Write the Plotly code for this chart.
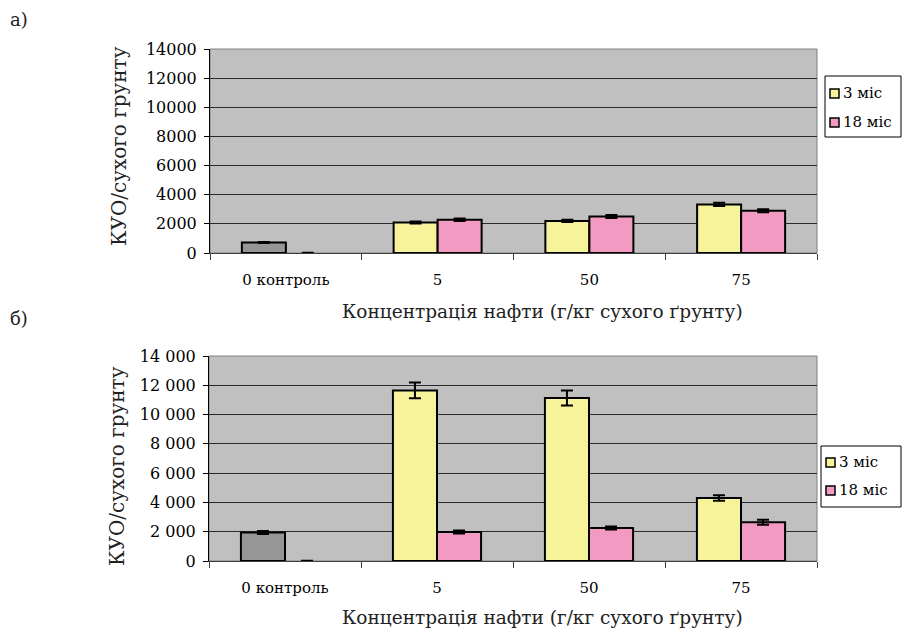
import plotly.graph_objects as go

# Categories: oil concentration, g/kg dry soil
categories = ["0 контроль", "5", "50", "75"]

# Panel а): CFU per dry soil
a_3m = [720, 2100, 2200, 3330]
a_3m_err = [40, 70, 80, 110]
a_18m = [0, 2280, 2500, 2900]
a_18m_err = [20, 80, 100, 110]

# Panel б): CFU per dry soil
b_3m = [1950, 11650, 11130, 4300]
b_3m_err = [100, 540, 510, 190]
b_18m = [0, 1980, 2250, 2640]
b_18m_err = [20, 110, 100, 170]

series_names = ["3 міс", "18 міс"]

W, H = 902, 634
SERIF = "DejaVu Serif"
YELLOW = "#F6F39A"
PINK = "#F29AC2"
GREY = "#969696"
BG = "#C0C0C0"
COLORS = [YELLOW, PINK]


def px_x(x):
    return x / W


def px_y(y):
    return 1 - y / H


fig = go.Figure()


def bar(x, y, err, color, lw, group, xa, ya):
    fig.add_trace(go.Bar(
        x=x, y=y, offsetgroup=group, showlegend=False,
        marker=dict(color=color, line=dict(color="black", width=lw)),
        error_y=dict(type="data", array=err, color="black", thickness=2, width=6),
        xaxis=xa, yaxis=ya,
    ))


def add_panel(vals3, err3, vals18, err18, xa, ya):
    # control (first category) is drawn in grey, the rest per series colour
    bar(categories[:1], vals3[:1], err3[:1], GREY, 2, "m3", xa, ya)
    bar(categories[1:], vals3[1:], err3[1:], YELLOW, 2, "m3", xa, ya)
    bar(categories[:1], vals18[:1], err18[:1], PINK, 0, "m18", xa, ya)
    bar(categories[1:], vals18[1:], err18[1:], PINK, 2, "m18", xa, ya)


add_panel(a_3m, a_3m_err, a_18m, a_18m_err, "x", "y")
add_panel(b_3m, b_3m_err, b_18m, b_18m_err, "x2", "y2")

xaxis_common = dict(
    type="category", categoryorder="array", categoryarray=categories,
    showline=True, linecolor="#404040", linewidth=1, automargin=False,
    ticks="outside", tickson="boundaries", ticklen=6, tickcolor="#404040",
    showgrid=False, tickfont=dict(family=SERIF, size=15, color="black"),
    ticklabelstandoff=13, fixedrange=True,
)
yaxis_common = dict(
    range=[0, 14000], dtick=2000, showline=True, linecolor="black", linewidth=1,
    ticks="outside", ticklen=5, tickcolor="black", showgrid=True, automargin=False,
    gridcolor="#2a2a2a", gridwidth=1, zeroline=False,
    tickfont=dict(family=SERIF, size=16, color="black"), ticklabelstandoff=4,
)

# plot-area pixel boxes
A = dict(l=210, r=817, t=49, b=253)
B = dict(l=209, r=817, t=356, b=561)

fig.update_layout(
    width=W, height=H, margin=dict(l=0, r=0, t=0, b=0, autoexpand=False),
    paper_bgcolor="white", plot_bgcolor=BG,
    font=dict(family=SERIF),
    barmode="group", bargap=0.42, bargroupgap=0,
    separators=". ", showlegend=False,
    xaxis=dict(domain=[px_x(A["l"]), px_x(A["r"])], anchor="y", **xaxis_common),
    yaxis=dict(domain=[px_y(A["b"]), px_y(A["t"])], anchor="x", tickformat="d",
               **yaxis_common),
    xaxis2=dict(domain=[px_x(B["l"]), px_x(B["r"])], anchor="y2", **xaxis_common),
    yaxis2=dict(domain=[px_y(B["b"]), px_y(B["t"])], anchor="x2", tickformat=",d",
                **yaxis_common),
)

# grey plot-area frame on top and right
for xr, yr in (("x domain", "y domain"), ("x2 domain", "y2 domain")):
    fig.add_shape(type="rect", xref=xr, yref=yr, x0=0, x1=1, y0=0, y1=1,
                  line=dict(color="#808080", width=1), layer="below")


def add_legend(left, top, row_y):
    # boxed key with a swatch and a label per series
    fig.add_shape(type="rect", xref="paper", yref="paper",
                  x0=px_x(left), x1=px_x(W - 1), y0=px_y(top + 61), y1=px_y(top),
                  line=dict(color="black", width=1), fillcolor="white")
    for name, col, yy in zip(series_names, COLORS, row_y):
        fig.add_shape(type="rect", xref="paper", yref="paper",
                      x0=px_x(left + 5), x1=px_x(left + 14),
                      y0=px_y(yy + 5), y1=px_y(yy - 4),
                      line=dict(color="black", width=1.5), fillcolor=col)
        fig.add_annotation(text=name, xref="paper", yref="paper",
                           x=px_x(left + 16), y=px_y(yy), xanchor="left",
                           yanchor="middle", showarrow=False,
                           font=dict(family=SERIF, size=15, color="black"))


add_legend(825, 76, (93, 122))
add_legend(821, 446, (462, 490))

ytitle_font = dict(family=SERIF, size=20, color="#222222")
xtitle_font = dict(family=SERIF, size=18.5, color="#222222")
annots = [
    dict(text="КУО/сухого грунту", x=px_x(119), y=px_y(146), textangle=-90,
         font=ytitle_font),
    dict(text="КУО/сухого грунту", x=px_x(117), y=px_y(466), textangle=-90,
         font=ytitle_font),
    dict(text="Концентрація нафти (г/кг сухого ґрунту)", x=px_x(542), y=px_y(311),
         font=xtitle_font),
    dict(text="Концентрація нафти (г/кг сухого ґрунту)", x=px_x(542), y=px_y(617),
         font=xtitle_font),
]
for a in annots:
    fig.add_annotation(xref="paper", yref="paper", showarrow=False,
                       xanchor="center", yanchor="middle", **a)

for txt, yy in (("а)", 19), ("б)", 318)):
    fig.add_annotation(text=txt, xref="paper", yref="paper", x=px_x(8), y=px_y(yy),
                       xanchor="left", yanchor="middle", showarrow=False,
                       font=dict(family=SERIF, size=18, color="#222222"))

fig.write_html("out.html")
